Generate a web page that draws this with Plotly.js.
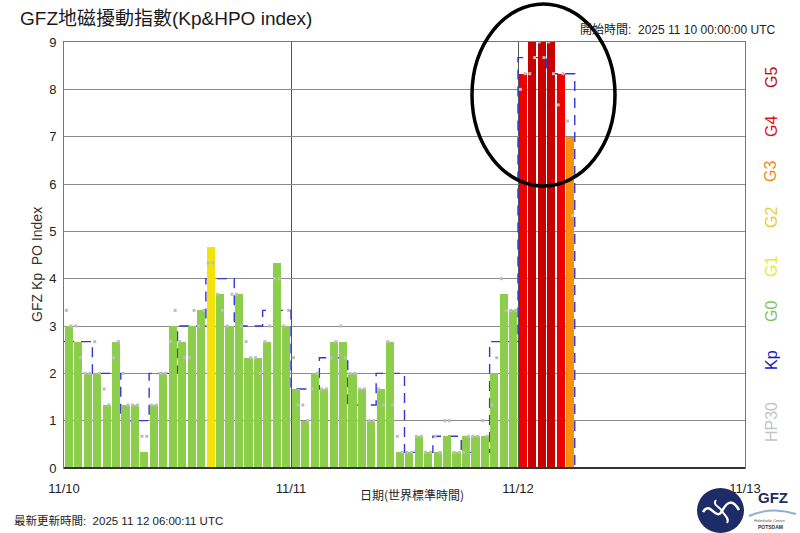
<!DOCTYPE html>
<html>
<head>
<meta charset="utf-8">
<script src="https://cdn.plot.ly/plotly-3.0.1.min.js"></script>
<style>
html,body{margin:0;padding:0;background:#fff;}
#chart{width:800px;height:533px;}
</style>
</head>
<body>
<div id="chart"></div>
<script>
// ---- data ----
const dayLabels = ['11/10', '11/11', '11/12', '11/13'];
// hourly bars (Hp60), starting 2025-11-10 00:00 UTC
const hp60 = [
  3.0, 2.67, 2.0, 2.0, 1.33, 2.67, 1.33, 1.33, 0.33, 1.33, 2.0, 3.0,
  2.67, 3.0, 3.33, 4.67, 3.67, 3.0, 3.67, 2.33, 2.33, 2.67, 4.33, 3.0,
  1.67, 1.0, 2.0, 1.67, 2.67, 2.67, 2.0, 1.67, 1.0, 1.67, 2.67, 0.33,
  0.33, 0.67, 0.33, 0.33, 0.67, 0.33, 0.67, 0.67, 0.67, 2.0, 3.67, 3.33,
  8.33, 9.0, 9.0, 9.0, 8.33, 7.0
];
// half-hourly HP30 values
const hp30 = [
  3.33, 3.0, 3.0, 2.33, 2.0, 2.0, 2.67, 2.0, 1.67, 1.33, 2.33, 2.67,
  2.0, 1.33, 1.33, 1.33, 0.67, 0.67, 1.33, 1.33, 2.0, 2.0, 2.67, 3.33,
  2.67, 2.33, 2.33, 3.33, 3.0, 3.33, 4.33, 4.33, 3.67, 3.33, 3.0, 3.67,
  3.67, 3.0, 2.67, 2.33, 2.33, 2.0, 2.67, 3.0, 4.0, 4.0, 3.0, 3.33,
  2.33, 1.33, 1.33, 1.0, 1.67, 2.0, 1.67, 1.67, 2.33, 2.67, 3.0, 2.33,
  2.0, 2.0, 1.67, 1.67, 1.0, 1.0, 1.67, 1.33, 2.67, 1.33, 0.67, 0.33,
  0.33, 0.33, 0.67, 0.67, 0.33, 0.33, 0.67, 0.33, 1.0, 1.0, 0.33, 0.33,
  0.33, 0.67, 0.67, 0.67, 1.0, 0.67, 1.33, 2.33, 4.0, 3.33, 3.33, 3.33,
  8.0, 8.33, 8.33, 8.67, 9.0, 8.67, 9.0, 8.33, 7.67, 8.33, 7.33, 5.33
];
// 3-hourly Kp
const kp = [
  2.67, 2.0, 1.0, 2.0, 3.0, 4.0, 3.0, 3.33,
  1.67, 2.33, 1.33, 2.0, 0.33, 0.67, 0.33, 2.67,
  8.67, 8.33
];
// storm level colour scale (lower bound of each level)
const levelNames  = ['G0', 'G1', 'G2', 'G3', 'G4', 'G5'];
const levelMin    = [0, 4.67, 5.67, 6.67, 7.67, 8.67];
const levelColors = ['#8cce4c', '#f2e30a', '#f5c400', '#f7900a', '#ef0000', '#c80000'];
const sideLabels  = ['G5', 'G4', 'G3', 'G2', 'G1', 'G0', 'Kp', 'HP30'];
const sideColors  = ['#c0101e', '#e0101a', '#f08a1e', '#e8cf28', '#e9ea2a', '#86c25a', '#1515c8', '#c4c4c4'];

// ---- build traces ----
function levelColor(v) {
  let c = levelColors[0];
  for (let i = 0; i < levelMin.length; i++) if (v >= levelMin[i] - 1e-6) c = levelColors[i];
  return c;
}
const barX = hp60.map((_, i) => i + 0.5);
const barTrace = {
  type: 'bar', x: barX, y: hp60, width: 0.86, xaxis: 'x2', yaxis: 'y2',
  marker: {color: hp60.map(levelColor), line: {width: 0}},
  hoverinfo: 'skip', showlegend: false
};
const kpX = kp.map((_, i) => i * 3).concat([kp.length * 3, kp.length * 3]);
const kpY = kp.concat([kp[kp.length - 1], 0]);
const kpTrace = {
  type: 'scatter', mode: 'lines', x: kpX, y: kpY, xaxis: 'x', yaxis: 'y',
  line: {shape: 'hv', color: '#3535dc', width: 1.4, dash: '10px,7px'},
  hoverinfo: 'skip', showlegend: false
};
const hp30Trace = {
  type: 'scatter', mode: 'markers', x: hp30.map((_, i) => i * 0.5 + 0.25), y: hp30,
  xaxis: 'x2', yaxis: 'y2',
  marker: {symbol: 'square', size: 3, color: '#bdbdbd'},
  hoverinfo: 'skip', showlegend: false
};

// ---- layout ----
const FONT = 'Liberation Sans, Arial, "Noto Sans CJK TC", sans-serif';
const CJK = '"Noto Sans CJK TC", "Liberation Sans", sans-serif';
const MIX = '"Liberation Sans", "Noto Sans CJK TC", sans-serif';
const L = 64, T = 42, W = 681, H = 426;
const px = x => (x - L) / W;
const py = y => (T + H - y) / H;

const annotations = [
  {text: '開始時間:  2025 11 10 00:00:00 UTC', x: px(778), y: py(30), xanchor: 'right', yanchor: 'middle',
   font: {family: MIX, size: 12, color: '#222'}},
  {text: '最新更新時間:  2025 11 12 06:00:11 UTC', x: px(12), y: py(520), xanchor: 'left', yanchor: 'middle',
   font: {family: MIX, size: 11.5, color: '#222'}},
  {text: '日期(世界標準時間)', x: px(412), y: py(495), xanchor: 'center', yanchor: 'middle',
   font: {family: CJK, size: 12, color: '#222'}},
  {text: 'GFZ Kp  PO Index', x: px(37), y: py(265), textangle: -90, xanchor: 'center', yanchor: 'middle',
   font: {family: FONT, size: 14, color: '#333'}},
  {text: '<b>GFZ</b>', x: px(773), y: py(498), xanchor: 'center', yanchor: 'middle',
   font: {family: FONT, size: 15, color: '#1d2c66'}},
  {text: 'Helmholtz Centre', x: px(770), y: py(520), xanchor: 'center', yanchor: 'middle',
   font: {family: FONT, size: 4, color: '#555'}},
  {text: '<b>POTSDAM</b>', x: px(770), y: py(527), xanchor: 'center', yanchor: 'middle',
   font: {family: FONT, size: 5, color: '#333'}}
];
const sideY = [78, 127, 172, 218, 267, 312, 360, 422];
sideLabels.forEach((t, i) => annotations.push({
  text: t, x: px(771), y: py(sideY[i]), textangle: -90, xanchor: 'center', yanchor: 'middle',
  font: {family: FONT, size: 16, color: sideColors[i]}
}));
annotations.forEach(a => { a.xref = 'paper'; a.yref = 'paper'; a.showarrow = false; });

const shapes = [
  // highlight ellipse
  {type: 'circle', xref: 'paper', yref: 'paper', x0: px(472), x1: px(615), y0: py(186), y1: py(4),
   line: {color: '#000', width: 3.5}},
  // GFZ logo disc
  {type: 'circle', xref: 'paper', yref: 'paper', x0: px(697), x1: px(744), y0: py(533), y1: py(488),
   fillcolor: '#1d2c66', line: {width: 0}},
  {type: 'path', xref: 'paper', yref: 'paper',
   path: `M ${px(703)} ${py(512)} C ${px(710)} ${py(500)}, ${px(716)} ${py(522)}, ${px(722)} ${py(511)} S ${px(733)} ${py(500)}, ${px(739)} ${py(510)}`,
   line: {color: '#fff', width: 2.5}},
  {type: 'path', xref: 'paper', yref: 'paper',
   path: `M ${px(716)} ${py(500)} C ${px(712)} ${py(505)}, ${px(720)} ${py(507)}, ${px(722)} ${py(511)} C ${px(724)} ${py(515)}, ${px(730)} ${py(518)}, ${px(727)} ${py(523)}`,
   line: {color: '#fff', width: 2}},
  {type: 'path', xref: 'paper', yref: 'paper',
   path: `M ${px(749)} ${py(516)} Q ${px(772)} ${py(506)} ${px(796)} ${py(514)}`,
   line: {color: '#8fb3cf', width: 2}},
  // dark base line
  {type: 'line', xref: 'paper', yref: 'paper', x0: 0, x1: 1, y0: 0, y1: 0, line: {color: '#333', width: 2}}
];

const layout = {
  width: 800, height: 533,
  margin: {l: L, r: 800 - L - W, t: T, b: 533 - T - H, pad: 0},
  paper_bgcolor: '#fff', plot_bgcolor: '#fff',
  font: {family: FONT, size: 12, color: '#222'},
  title: {text: 'GFZ地磁擾動指數(Kp&HPO index)', xref: 'container', yref: 'container',
          x: 20 / 800, xanchor: 'left', y: 1 - 18 / 533, yanchor: 'middle',
          font: {family: MIX, size: 19, color: '#1a1a1a'}},
  bargap: 0,
  showlegend: false,
  xaxis: {
    range: [0, 72], tickvals: [0, 24, 48, 72], ticktext: dayLabels,
    showgrid: true, gridcolor: '#555', gridwidth: 1,
    showline: true, linecolor: '#777', linewidth: 1, mirror: true,
    ticks: 'outside', ticklen: 8, tickcolor: 'rgba(0,0,0,0)',
    tickfont: {family: FONT, size: 13, color: '#222'}, zeroline: false, fixedrange: true
  },
  yaxis: {
    range: [0, 9], dtick: 1, tick0: 0,
    showgrid: true, gridcolor: '#8a8a8a', gridwidth: 1,
    showline: true, linecolor: '#777', linewidth: 1, mirror: true,
    ticks: 'outside', ticklen: 4, tickcolor: 'rgba(0,0,0,0)',
    tickfont: {family: FONT, size: 13, color: '#222'}, zeroline: false, fixedrange: true
  },
  xaxis2: {range: [0, 72], overlaying: 'x', visible: false, fixedrange: true},
  yaxis2: {range: [0, 9], overlaying: 'y', visible: false, fixedrange: true},
  annotations: annotations,
  shapes: shapes
};

Plotly.newPlot('chart', [kpTrace, barTrace, hp30Trace], layout, {staticPlot: true, displayModeBar: false});
</script>
</body>
</html>
